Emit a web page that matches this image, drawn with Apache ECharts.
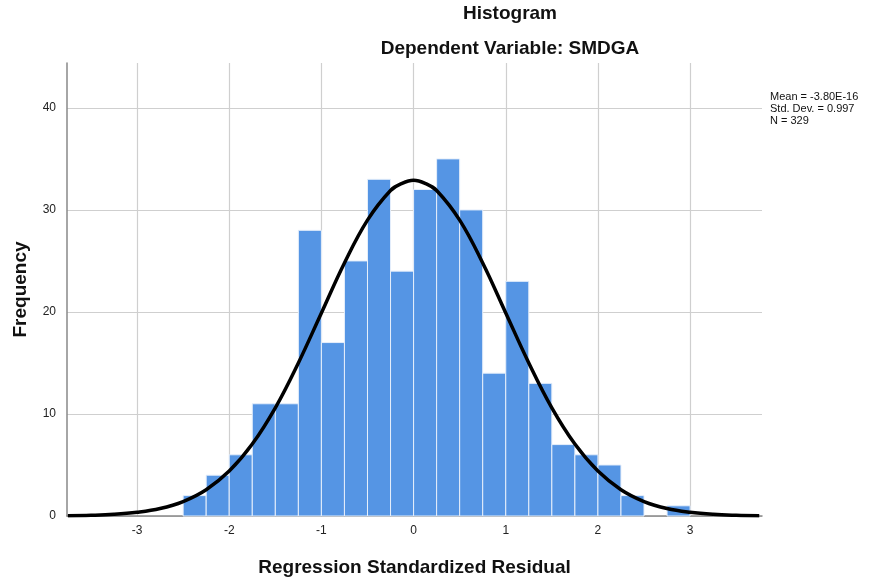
<!DOCTYPE html>
<html>
<head>
<meta charset="utf-8">
<title>Histogram</title>
<script src="https://cdn.jsdelivr.net/npm/echarts@6/dist/echarts.min.js"></script>
<style>
  html, body { margin: 0; padding: 0; background: #ffffff; }
  #chart { width: 878px; height: 585px; }
</style>
</head>
<body>
<div id="chart"></div>
<script>
// histogram bins (left edge) and counts
const binStarts = [-2.5, -2.25, -2.0, -1.75, -1.5, -1.25, -1.0, -0.75, -0.5, -0.25,
  0.0, 0.25, 0.5, 0.75, 1.0, 1.25, 1.5, 1.75, 2.0, 2.25, 2.5, 2.75];
const binCounts = [2, 4, 6, 11, 11, 28, 17, 25, 33, 24,
  32, 35, 30, 14, 23, 13, 7, 6, 5, 2, 0, 1];
const binWidth = 0.25;

// normal curve
const curveX = [-3.75, -3.5, -3.25, -3.0, -2.75, -2.5, -2.25, -2.0, -1.75, -1.5, -1.25, -1.0,
  -0.75, -0.5, -0.25, -0.125, 0.0, 0.125, 0.25, 0.5, 0.75, 1.0, 1.25, 1.5, 1.75, 2.0, 2.25,
  2.5, 2.75, 3.0, 3.25, 3.5, 3.75];
const curveY = [0.03, 0.07, 0.16, 0.36, 0.73, 1.42, 2.58, 4.4, 7.05, 10.6, 15.0, 19.9,
  24.8, 29.0, 31.9, 32.6, 32.9, 32.6, 31.9, 29.0, 24.8, 19.9, 15.0, 10.6, 7.05, 4.4, 2.58,
  1.42, 0.73, 0.36, 0.16, 0.07, 0.03];

const xTicks = [-3, -2, -1, 0, 1, 2, 3];
const yTicks = [0, 10, 20, 30, 40];
const statLines = ['Mean = -3.80E-16', 'Std. Dev. = 0.997', 'N = 329'];

const chart = echarts.init(document.getElementById('chart'));

const font = '"Liberation Sans", Arial, sans-serif';

const option = {
  animation: false,
  textStyle: { fontFamily: font },
  title: [
    {
      text: 'Histogram',
      left: 505, top: -1, textAlign: 'center',
      textStyle: { fontSize: 19, fontWeight: 'bold', color: '#111', fontFamily: font }
    },
    {
      text: 'Dependent Variable: SMDGA',
      left: 505, top: 34, textAlign: 'center',
      textStyle: { fontSize: 19, fontWeight: 'bold', color: '#111', fontFamily: font }
    }
  ],
  graphic: [{
    type: 'text',
    left: 770, top: 91,
    style: {
      text: statLines.join('\n'),
      font: '11px ' + font,
      lineHeight: 12,
      fill: '#111'
    }
  }],
  grid: { left: 67, right: 116, top: 63, bottom: 69 },
  xAxis: {
    type: 'value',
    min: -3.76, max: 3.78,
    name: 'Regression Standardized Residual',
    nameLocation: 'middle',
    nameGap: 42,
    nameTextStyle: { fontSize: 19, fontWeight: 'bold', color: '#111' },
    axisLine: { show: true, onZero: false, lineStyle: { color: '#888', width: 1.5 } },
    axisTick: { show: false, customValues: xTicks },
    axisLabel: { customValues: xTicks, color: '#222', fontSize: 12, margin: 9 },
    splitLine: { show: true, lineStyle: { color: '#cfcfcf', width: 1.2 } }
  },
  yAxis: {
    type: 'value',
    min: 0, max: 44.4,
    name: 'Frequency',
    nameLocation: 'middle',
    nameGap: 37,
    nameTextStyle: { fontSize: 19, fontWeight: 'bold', color: '#111' },
    axisLine: { show: true, onZero: false, lineStyle: { color: '#888', width: 1.5 } },
    axisTick: { show: false, customValues: yTicks },
    axisLabel: { customValues: yTicks, color: '#222', fontSize: 12, margin: 11 },
    splitLine: { show: true, lineStyle: { color: '#cfcfcf', width: 1.2 } }
  },
  series: [
    {
      type: 'custom',
      data: binStarts.map((s, i) => [s, binCounts[i]]),
      renderItem: function (params, api) {
        const x0 = api.value(0);
        const cnt = api.value(1);
        if (!cnt) return null;
        const p0 = api.coord([x0, cnt]);
        const p1 = api.coord([x0 + binWidth, 0]);
        return {
          type: 'rect',
          shape: { x: p0[0], y: p0[1], width: p1[0] - p0[0], height: p1[1] - p0[1] },
          style: { fill: '#5595e4', stroke: '#e6effb', lineWidth: 1 }
        };
      },
      z: 2
    },
    {
      type: 'line',
      data: curveX.map((x, i) => [x, curveY[i]]),
      smooth: 0.4,
      symbol: 'none',
      lineStyle: { color: '#000', width: 3.5 },
      z: 5
    }
  ]
};

chart.setOption(option);
</script>
</body>
</html>
